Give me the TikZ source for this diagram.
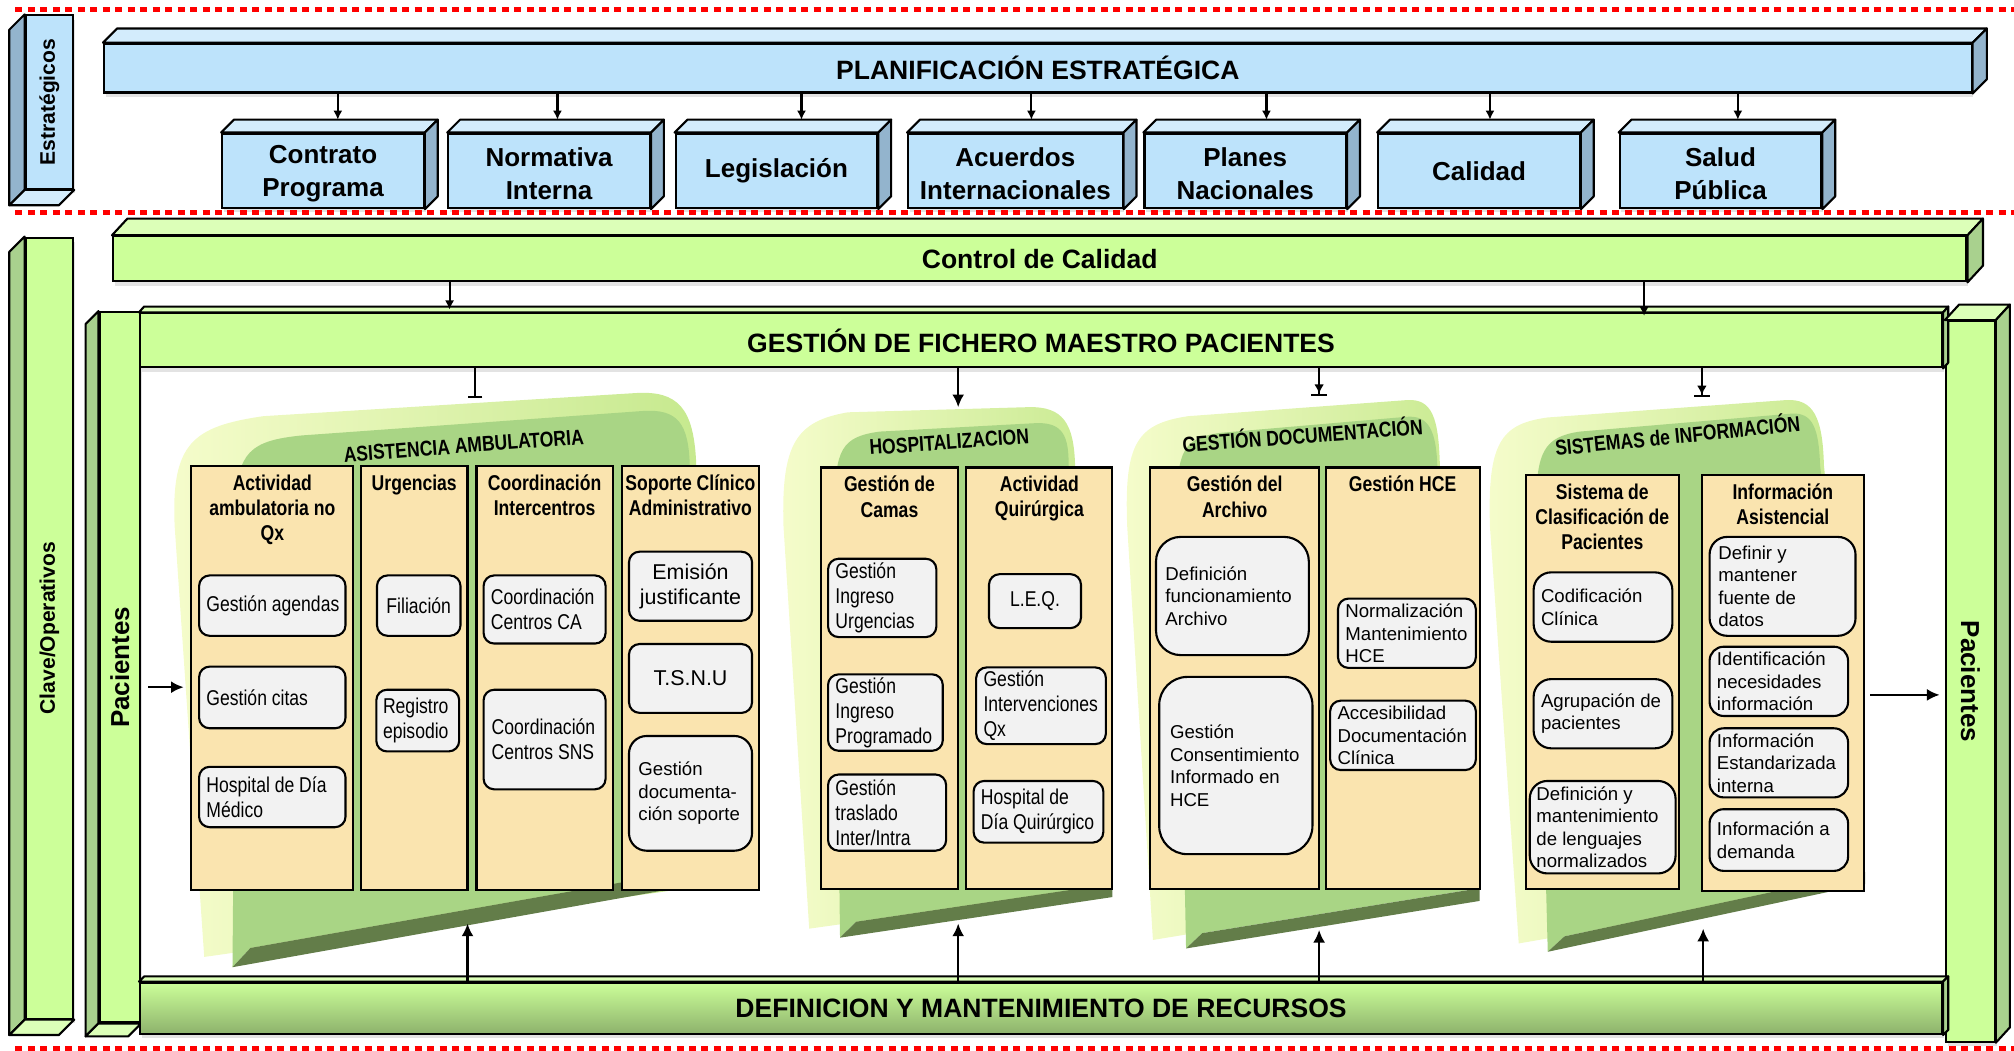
\documentclass[tikz,border=0pt]{standalone}
\usepackage{fontspec}
\setmainfont{Liberation Sans}
\newfontfamily\narrowsf[FakeStretch=0.82]{Liberation Sans}
\usetikzlibrary{positioning,fit,arrows.meta,shadows}

\definecolor{bluefront}{HTML}{BDE3FB}
\definecolor{bluetop}{HTML}{D3ECFC}
\definecolor{blueside}{HTML}{93B4CD}
\definecolor{greenfront}{HTML}{CCFF99}
\definecolor{greentop}{HTML}{DCFFB8}
\definecolor{greenside}{HTML}{A9D18E}
\definecolor{greendeep}{HTML}{8DB26C}
\definecolor{tabgreen}{HTML}{A9D585}
\definecolor{tabrimleft}{HTML}{F5FCCB}
\definecolor{tabrimright}{HTML}{C6E98E}
\definecolor{tabshade}{HTML}{637D49}
\definecolor{coltan}{HTML}{FAE4AF}
\definecolor{itemgray}{HTML}{F2F2F2}
\definecolor{reddot}{HTML}{FF0000}

\begin{document}
\begin{tikzpicture}[x=0.012844cm, y=-0.012844cm,
    box/.style={draw, line width=0.6pt, inner sep=0pt},
    shadowed/.style={drop shadow={shadow xshift=0.5pt, shadow yshift=-1.2pt, opacity=0.22}},
    bluebox/.style={box, shadowed, fill=bluefront},
    greenbox/.style={box, shadowed, fill=greenfront},
    boxtext/.style={inner sep=0pt, align=center, font=\fontsize{7.4}{9.3}\selectfont\bfseries},
    boxtwo/.style={boxtext, yshift=-0.9pt},
    bartext/.style={inner sep=0pt, font=\fontsize{7.55}{9}\selectfont\bfseries},
    face/.style={draw, line width=0.6pt, line join=round},
    sidetext/.style={inner sep=0pt, font=\fontsize{6}{7}\selectfont\bfseries},
    pactext/.style={inner sep=0pt, font=\fontsize{7.4}{9}\selectfont\bfseries},
    tabrim/.style={left color=tabrimleft, right color=tabrimright},
    tabface/.style={fill=tabgreen},
    tabdark/.style={fill=tabshade},
    tabtitle/.style={inner sep=0pt, font=\narrowsf\fontsize{6.1}{7}\selectfont\bfseries},
    column/.style={draw, line width=0.6pt, fill=coltan, inner sep=0pt},
    coltitle/.style={inner sep=0pt, align=center, font=\narrowsf\fontsize{6.1}{7.2}\selectfont\bfseries},
    item/.style={draw, line width=0.6pt, fill=itemgray, rounded corners=3pt, inner sep=0pt},
    nar/.style={inner sep=0pt, align=left, font=\narrowsf\fontsize{6.1}{7.1}\selectfont},
    reg/.style={inner sep=0pt, align=left, font=\fontsize{5.3}{6.4}\selectfont},
    big/.style={inner sep=0pt, align=center, font=\fontsize{6.1}{7.1}\selectfont},
    arr/.style={line width=0.6pt, -{Latex[length=2.6pt, width=2.6pt]}},
    arrbig/.style={line width=0.6pt, -{Latex[length=3.6pt, width=3.4pt]}},
    arrbar/.style={line width=0.6pt, -{Bar[width=4pt]}},
    arrtipbar/.style={line width=0.6pt, -{Latex[length=2.6pt, width=2.8pt]Bar[width=4.5pt]}},
    reddots/.style={draw=reddot, line width=1.5pt, dash pattern=on 2pt off 1.55pt}
]
    \useasboundingbox (0,0) rectangle (1568,818);

    % estrategicos
    \node[bluebox, fit={(20,12)(57,147)}] (estrat) {};
    \node[sidetext, rotate=90] (estrat-t) at (estrat.center) {Estratégicos};

    \node[bluebox, fit={(81,34)(1535,72)}] (plan) {};
    \node[bartext] (plan-t) at (plan.center) {PLANIFICACIÓN ESTRATÉGICA};
    \node[bluebox, fit={(173,104)(330,162)}] (contrato) {};
    \node[bluebox, fit={(349,104)(506,162)}] (normativa) {};
    \node[bluebox, fit={(526,104)(683,162)}] (legis) {};
    \node[bluebox, fit={(707,104)(874,162)}] (acuerdos) {};
    \node[bluebox, fit={(891,104)(1048,162)}] (planes) {};
    \node[bluebox, fit={(1073,104)(1230,162)}] (calidad) {};
    \node[bluebox, fit={(1261,104)(1418,162)}] (salud) {};
    \node[boxtwo] (contrato-t) at (contrato.center) {Contrato\\Programa};
    \node[boxtwo] (normativa-t) at (normativa.center) {Normativa\\Interna};
    \node[boxtext] (legis-t) at (legis.center) {Legislación};
    \node[boxtwo] (acuerdos-t) at (acuerdos.center) {Acuerdos\\Internacionales};
    \node[boxtwo] (planes-t) at (planes.center) {Planes\\Nacionales};
    \node[boxtext] (calidad-t) at (calidad.center) {Calidad};
    \node[boxtwo] (salud-t) at (salud.center) {Salud\\Pública};

    \foreach \n/\dx/\dy in {plan/11/-11, contrato/10/-10, normativa/10/-10, legis/10/-10,
                             acuerdos/10/-10, planes/10/-10, calidad/10/-10, salud/10/-10} {
        \filldraw[face, fill=bluetop] (\n.north west) -- ++(\dx,\dy) -- ([shift={(\dx,\dy)}]\n.north east) -- (\n.north east) -- cycle;
        \filldraw[face, fill=blueside] (\n.north east) -- ++(\dx,\dy) -- ([shift={(\dx,\dy)}]\n.south east) -- (\n.south east) -- cycle;
    }
    \filldraw[face, fill=blueside] (estrat.north west) -- ++(-12,12) -- ([shift={(-12,12)}]estrat.south west) -- (estrat.south west) -- cycle;
    \filldraw[face, fill=bluetop] (estrat.south west) -- ++(-12,12) -- ([shift={(-12,12)}]estrat.south east) -- (estrat.south east) -- cycle;

    \foreach \n/\dx in {contrato/11.5, normativa/6.5, legis/19.5, acuerdos/12.5,
                        planes/16.5, calidad/8.5, salud/13.5} {
        \coordinate (\n-in) at ([shift={(\dx,-10)}]\n.north);
        \draw[arr] (\n-in |- plan.south) -- (\n-in);
    }

    % clave / operativos
    \node[greenbox, fit={(20,185)(57,793)}] (clave) {};
    \node[sidetext, rotate=90] (clave-t) at (clave.center) {Clave/Operativos};
    \filldraw[face, fill=greenside] (clave.north west) -- ++(-12,12) -- ([shift={(-12,12)}]clave.south west) -- (clave.south west) -- cycle;
    \filldraw[face, fill=greentop] (clave.south west) -- ++(-12,12) -- ([shift={(-12,12)}]clave.south east) -- (clave.south east) -- cycle;

    \node[greenbox, fit={(88,184)(1531,219)}] (control) {};
    \node[bartext] (control-t) at (control.center) {Control de Calidad};
    \filldraw[face, fill=greentop] (control.north west) -- ++(12,-13) -- ([shift={(12,-13)}]control.north east) -- (control.north east) -- cycle;
    \filldraw[face, fill=greenside] (control.north east) -- ++(12,-13) -- ([shift={(12,-13)}]control.south east) -- (control.south east) -- cycle;

    % asistencia ambulatoria
    \path[tabrim] (159,745) -- (136,410) .. controls (133,345) and (150,332) .. (205,324) -- (495,306) .. controls (528,304) and (540,318) .. (542,360) -- (546,690) -- cycle;
    \path[tabface] (181,753) -- (184,395) .. controls (184,352) and (195,343) .. (235,339) -- (500,320) .. controls (528,318) and (536,330) .. (537,362) -- (546,676) -- (195,738) -- cycle;
    \path[tabdark] (181,753) -- (546,688) -- (546,676) -- (195,738) -- cycle;
    \node[tabtitle, rotate=4.3] (asis-t) at (361,347) {ASISTENCIA AMBULATORIA};

    \node[column, fit={(149,363)(275,693)}] (actamb) {};
    \node[coltitle, below=2.5pt of actamb.north] (actamb-t) {Actividad\\ambulatoria no\\Qx};
    \node[item, fit={(155,448)(269,495)}] (agendas) {};
    \node[nar, right=2.2pt of agendas.west] (agendas-t) {Gestión agendas};
    \node[item, fit={(155,519)(269,567)}] (citas) {};
    \node[nar, right=2.2pt of citas.west] (citas-t) {Gestión citas};
    \node[item, fit={(155,597)(269,644)}] (hdmed) {};
    \node[nar, right=2.2pt of hdmed.west] (hdmed-t) {Hospital de Día\\Médico};

    \node[column, fit={(281,363)(364,693)}] (urg) {};
    \node[coltitle, below=2.5pt of urg.north] (urg-t) {Urgencias};
    \node[item, fit={(293.5,448)(358.5,495)}] (filiacion) {};
    \node[nar] (filiacion-t) at (filiacion.center) {Filiación};
    \node[item, fit={(293,537)(357.5,585)}] (registro) {};
    \node[nar, right=2pt of registro.west] (registro-t) {Registro\\episodio};

    \node[column, fit={(371,363)(477,693)}] (coord) {};
    \node[coltitle, below=2.5pt of coord.north] (coord-t) {Coordinación\\Intercentros};
    \node[item, fit={(376.5,448)(471.5,501)}] (centrosca) {};
    \node[nar, right=2.2pt of centrosca.west] (centrosca-t) {Coordinación\\Centros CA};
    \node[item, fit={(376.5,537)(471.5,614.5)}] (centrossns) {};
    \node[nar, right=2.4pt of centrossns.west] (centrossns-t) {Coordinación\\Centros SNS};

    \node[column, fit={(484,363)(591,693)}] (soporte) {};
    \node[coltitle, below=2.5pt of soporte.north] (soporte-t) {Soporte Clínico\\Administrativo};
    \node[item, fit={(489.7,429.5)(585.5,483.3)}] (emision) {};
    \node[big] (emision-t) at (emision.center) {Emisión\\justificante};
    \node[item, fit={(489.7,501.4)(585.5,555)}] (tsnu) {};
    \node[big] (tsnu-t) at (tsnu.center) {T.S.N.U};
    \node[item, rounded corners=5pt, fit={(489.7,573)(585.5,662.3)}] (gdocsop) {};
    \node[reg, right=2.8pt of gdocsop.west] (gdocsop-t) {Gestión\\documenta-\\ción soporte};

    % hospitalizacion
    \path[tabrim] (630,723) -- (610,410) .. controls (608,345) and (620,328) .. (660,321) -- (800,317) .. controls (828,316) and (836,330) .. (837,362) -- (866,690) -- cycle;
    \path[tabface] (654,730) -- (650,395) .. controls (650,350) and (655,340) .. (685,336) -- (805,329.5) .. controls (828,328) and (832,340) .. (832,362) -- (866,688) -- (666.5,717.6) -- cycle;
    \path[tabdark] (654,730) -- (866,698.4) -- (866,688) -- (666.5,717.6) -- cycle;
    \node[tabtitle, rotate=4.1] (hosp-t) at (739,344) {HOSPITALIZACION};

    \node[column, fit={(639,364)(746,692)}] (camas) {};
    \node[coltitle, below=2.5pt of camas.north] (camas-t) {Gestión de\\Camas};
    \node[item, fit={(644.7,435)(729,496)}] (ingurg) {};
    \node[nar, right=2.2pt of ingurg.west] (ingurg-t) {Gestión\\Ingreso\\Urgencias};
    \node[item, fit={(644.7,525)(734,584.5)}] (ingprog) {};
    \node[nar, right=2.2pt of ingprog.west] (ingprog-t) {Gestión\\Ingreso\\Programado};
    \node[item, fit={(644.7,603)(736.6,662.3)}] (traslado) {};
    \node[nar, right=2.2pt of traslado.west] (traslado-t) {Gestión\\traslado\\Inter/Intra};

    \node[column, fit={(752.4,364)(866,692)}] (quir) {};
    \node[coltitle, below=2.5pt of quir.north] (quir-t) {Actividad\\Quirúrgica};
    \node[item, fit={(770,447)(841.6,489)}] (leq) {};
    \node[nar] (leq-t) at (leq.center) {L.E.Q.};
    \node[item, fit={(760,519.6)(861,579.3)}] (interv) {};
    \node[nar, right=2.2pt of interv.west] (interv-t) {Gestión\\Intervenciones\\Qx};
    \node[item, fit={(758,608)(859,656)}] (hdq) {};
    \node[nar, right=2.2pt of hdq.west] (hdq-t) {Hospital de\\Día Quirúrgico};

    % gestion documentacion
    \path[tabrim] (897.6,731.8) -- (877.6,410) .. controls (875,345) and (885,330) .. (925,324) -- (1095,311.5) .. controls (1115,310) and (1120,325) .. (1121,362) -- (1152,690) -- cycle;
    \path[tabface] (923.4,738.4) -- (916.6,395) .. controls (916,350) and (922,341) .. (950,337) -- (1095,324.5) .. controls (1112,323) and (1118,335) .. (1119,362) -- (1152,691.5) -- (936,726.5) -- cycle;
    \path[tabdark] (923.4,738.4) -- (1152,701.4) -- (1152,691.5) -- (936,726.5) -- cycle;
    \node[tabtitle, rotate=4.3] (gdoc-t) at (1014,338) {GESTIÓN DOCUMENTACIÓN};

    \node[column, fit={(895.6,364)(1027,692)}] (archivo) {};
    \node[coltitle, below=2.5pt of archivo.north] (archivo-t) {Gestión del\\Archivo};
    \node[item, rounded corners=7pt, fit={(900,418)(1019,510)}] (deffunc) {};
    \node[reg, right=2.8pt of deffunc.west] (deffunc-t) {Definición\\funcionamiento\\Archivo};
    \node[item, rounded corners=8pt, fit={(902.5,527)(1021.8,665)}] (consent) {};
    \node[reg, right=3.2pt of consent.west] (consent-t) {Gestión\\Consentimiento\\Informado en\\HCE};

    \node[column, fit={(1032,364)(1152,692)}] (hce) {};
    \node[coltitle, below=2.5pt of hce.north] (hce-t) {Gestión HCE};
    \node[item, fit={(1041.7,466)(1149,520)}] (normal) {};
    \node[reg, right=2.2pt of normal.west] (normal-t) {Normalización\\Mantenimiento\\HCE};
    \node[item, fit={(1035.6,545.5)(1149,599.5)}] (acces) {};
    \node[reg, right=2.2pt of acces.west] (acces-t) {Accesibilidad\\Documentación\\Clínica};

    % sistemas de informacion
    \path[tabrim] (1182.4,734.5) -- (1160,410) .. controls (1158,345) and (1168,330) .. (1205,325) -- (1390,311.5) .. controls (1412,310) and (1419,325) .. (1420,362) -- (1451,688) -- cycle;
    \path[tabface] (1205,741) -- (1196,395) .. controls (1196,352) and (1202,340) .. (1230,336) -- (1395,322) .. controls (1412,321) and (1416,335) .. (1417,362) -- (1452,679) -- (1218,729) -- cycle;
    \path[tabdark] (1205,741) -- (1452,688.3) -- (1452,679) -- (1218,729) -- cycle;
    \node[tabtitle, rotate=5.8] (sist-t) at (1306,338) {SISTEMAS de INFORMACIÓN};

    \node[column, fit={(1188,370)(1307,692)}] (clasif) {};
    \node[coltitle, below=2.5pt of clasif.north] (clasif-t) {Sistema de\\Clasificación de\\Pacientes};
    \node[item, rounded corners=5pt, fit={(1194,445.6)(1302,499.6)}] (codif) {};
    \node[reg, right=2.2pt of codif.west] (codif-t) {Codificación\\Clínica};
    \node[item, rounded corners=5pt, fit={(1194,528.7)(1302,582.6)}] (agrup) {};
    \node[reg, right=2.2pt of agrup.west] (agrup-t) {Agrupación de\\pacientes};
    \node[item, rounded corners=5pt, fit={(1191,608)(1304.5,680)}] (lengua) {};
    \node[reg, right=2pt of lengua.west] (lengua-t) {Definición y\\mantenimiento\\de lenguajes\\normalizados};

    \node[column, fit={(1325,370)(1451,694)}] (infoasis) {};
    \node[coltitle, below=2.5pt of infoasis.north] (infoasis-t) {Información\\Asistencial};
    \node[item, rounded corners=5pt, fit={(1331,418)(1444.6,495)}] (fuente) {};
    \node[reg, right=2.6pt of fuente.west] (fuente-t) {Definir y\\mantener\\fuente de\\datos};
    \node[item, rounded corners=4pt, fit={(1331,503.5)(1438.8,557.4)}] (necesid) {};
    \node[reg, right=2.2pt of necesid.west] (necesid-t) {Identificación\\necesidades\\información};
    \node[item, rounded corners=4pt, fit={(1331,567)(1438.8,620.8)}] (estand) {};
    \node[reg, right=2.2pt of estand.west] (estand-t) {Información\\Estandarizada\\interna};
    \node[item, rounded corners=4pt, fit={(1331,630)(1438.8,678)}] (demanda) {};
    \node[reg, right=2.2pt of demanda.west] (demanda-t) {Información a\\demanda};

    % marco de pacientes y recursos
    \node[greenbox, fit={(77.5,243)(109,796)}] (pacL) {};
    \node[pactext, rotate=90] (pacL-t) at (pacL.center) {Pacientes};
    \filldraw[face, fill=greenside] (pacL.north west) -- ++(-10,10) -- ([shift={(-10,10)}]pacL.south west) -- (pacL.south west) -- cycle;
    \filldraw[face, fill=greentop] (pacL.south west) -- ++(-10,10) -- ([shift={(-10,10)}]pacL.south east) -- (pacL.south east) -- cycle;

    \node[greenbox, fit={(109,244)(1512,286)}] (gest) {};
    \node[bartext] (gest-t) at (gest.center) {GESTIÓN DE FICHERO MAESTRO PACIENTES};
    \node[greenbox, fit={(1515,250)(1553,811)}] (pacR) {};
    \node[pactext, rotate=-90] (pacR-t) at (pacR.center) {Pacientes};
    \node[greenbox, fit={(109,765)(1512,805)}, top color=greenfront, middle color=greenfront, bottom color=greendeep] (defi) {};
    \node[bartext] (defi-t) at (defi.center) {DEFINICION Y MANTENIMIENTO DE RECURSOS};

    \foreach \n/\dx/\dy in {gest/4/-4.5, pacR/11/-12, defi/4/-4} {
        \filldraw[face, fill=greentop] (\n.north west) -- ++(\dx,\dy) -- ([shift={(\dx,\dy)}]\n.north east) -- (\n.north east) -- cycle;
        \filldraw[face, fill=greenside] (\n.north east) -- ++(\dx,\dy) -- ([shift={(\dx,\dy)}]\n.south east) -- (\n.south east) -- cycle;
    }

    % flechas
    \coordinate (ctl1) at (350,241);
    \coordinate (ctl2) at (1280,246);
    \draw[arr] (ctl1 |- control.south) -- (ctl1);
    \draw[arr] (ctl2 |- control.south) -- (ctl2);

    \coordinate (asis-in) at (370,310);
    \coordinate (hosp-in) at (746,317);
    \coordinate (gdoc-in) at (1027,308);
    \coordinate (sist-in) at (1325,309);
    \draw[arrbar] (asis-in |- gest.south) -- (asis-in);
    \draw[arrbig] (hosp-in |- gest.south) -- (hosp-in);
    \draw[arrtipbar] (gdoc-in |- gest.south) -- (gdoc-in);
    \draw[arrtipbar] (sist-in |- gest.south) -- (sist-in);

    \foreach \n/\x/\y in {asis/364/719, hosp/746/719, gdoc/1027/724, sist/1326/723} {
        \coordinate (\n-up) at (\x,\y);
        \draw[arrbig] (\n-up |- defi.north) -- (\n-up);
    }

    \coordinate (pin) at (143,535);
    \coordinate (pout) at (1456,541);
    \draw[arrbig, shorten <=2pt] (pin -| pacL.east) -- (pin);
    \draw[arrbig, shorten >=1.5pt] (pout) -- (pout -| pacR.west);

    % separadores
    \foreach \y in {7.3, 165.6, 816.3} {
        \draw[reddots] (12,\y) -- (1568,\y);
    }
\end{tikzpicture}
\end{document}
